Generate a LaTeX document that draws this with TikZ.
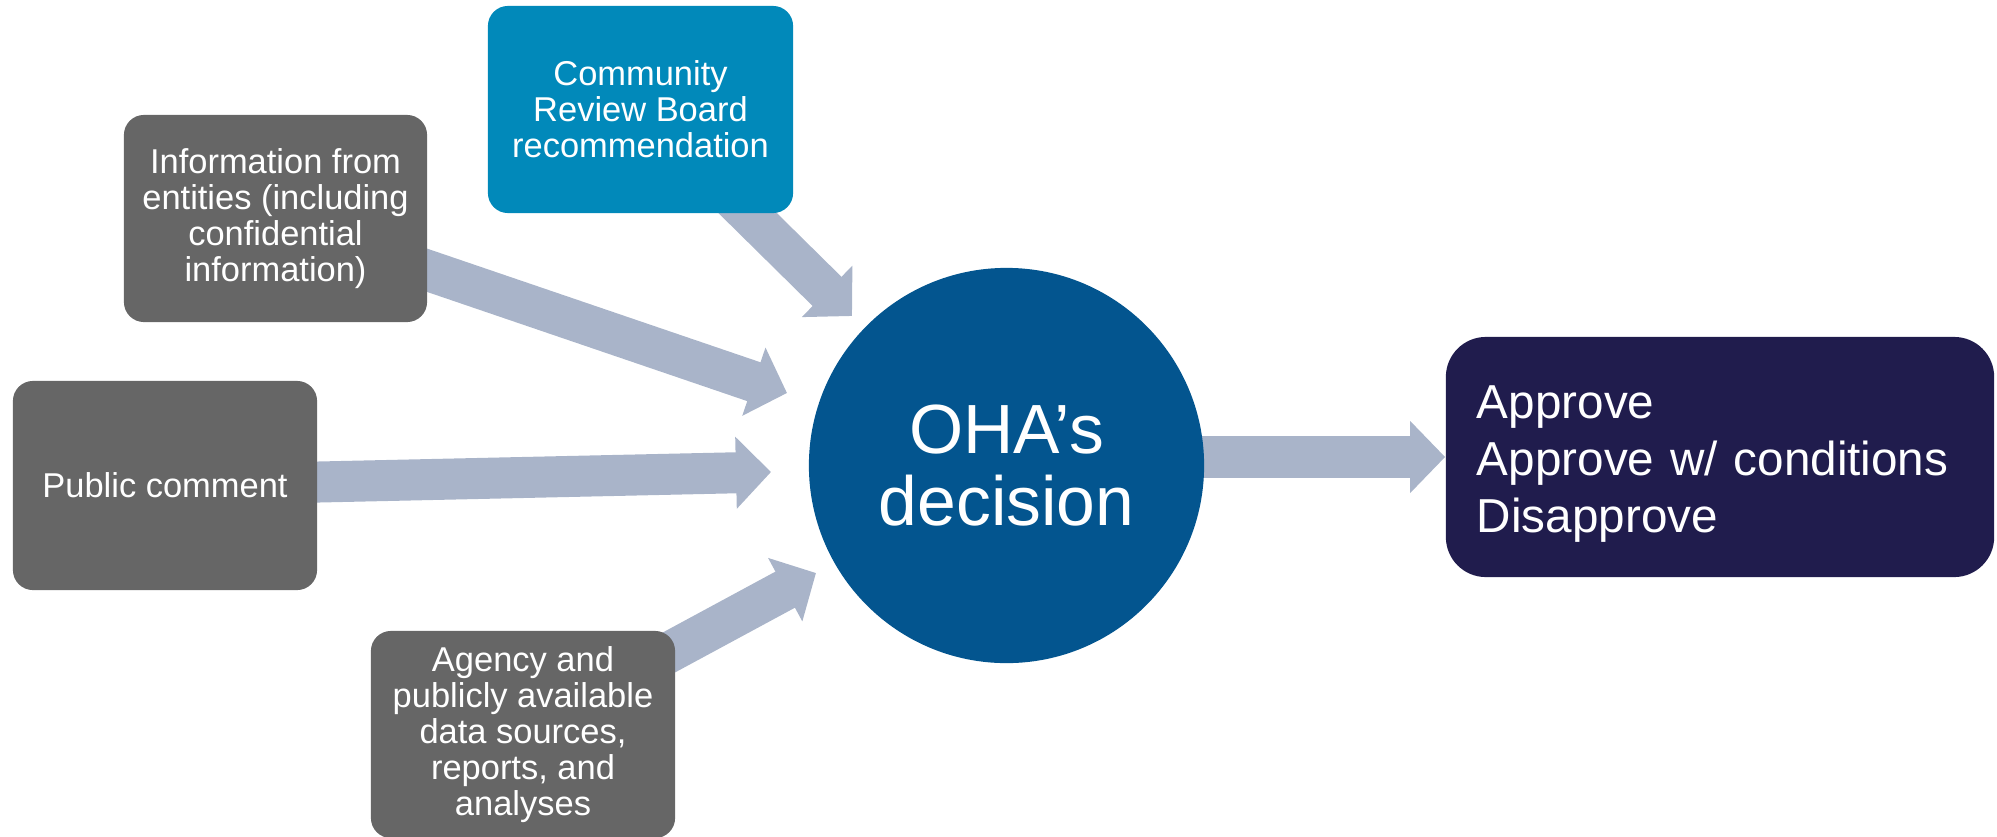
\documentclass[tikz,border=0pt]{standalone}
\usepackage{fontspec}
\setmainfont{Liberation Sans}
\usetikzlibrary{arrows.meta,calc}
\pgfdeclarelayer{background}
\pgfsetlayers{background,main}
\definecolor{boxgray}{HTML}{666666}
\definecolor{crbblue}{HTML}{0189BA}
\definecolor{ohablue}{HTML}{03558F}
\definecolor{outnavy}{HTML}{201C4D}
\definecolor{arrowgray}{HTML}{A9B4C9}
\begin{document}
\begin{tikzpicture}[x=0.01cm,y=-0.01cm,
  srcbox/.style={rectangle, rounded corners=0.2cm, fill=boxgray, text=white,
    align=center, minimum width=3.04cm, minimum height=2.07cm, inner sep=0pt,
    font=\fontsize{9.8}{10.25}\selectfont},
  fatarrow/.style={draw=arrowgray, line width=0.41cm,
    -{Triangle[width=0.70cm,length=0.35cm]}}]
\useasboundingbox (0,0) rectangle (1997,836);

% nodes
\node[srcbox, fill=crbblue, minimum width=3.05cm] (crb) at (640.5,109.5)
  {Community\\Review Board\\recommendation};
\node[srcbox, minimum width=3.03cm] (info) at (275.5,218.5)
  {Information from\\entities (including\\confidential\\information)};
\node[srcbox, minimum height=2.09cm] (pub) at (165,485.5) {Public comment};
\node[srcbox] (agency) at (523,734.5)
  {Agency and\\publicly available\\data sources,\\reports, and\\analyses};
\node[circle, fill=ohablue, minimum size=3.95cm, inner sep=0pt, text=white,
  align=center, font=\fontsize{19.8}{20.5}\selectfont] (oha) at (1006.5,465.5)
  {OHA’s\\decision};
\node[rectangle, rounded corners=0.4cm, fill=outnavy, text=white, align=left,
  text width=4.86cm, inner xsep=0.31cm, minimum height=2.40cm,
  font=\fontsize{13.55}{16.2}\selectfont] (out) at (1720,457)
  {\rule{0pt}{13.1pt}Approve\\Approve w/ conditions\\Disapprove};

% arrow tips
\coordinate (tipCRB) at (852,316);
\coordinate (tipInfo) at (787,393);
\coordinate (tipPub) at (771,472);
\coordinate (tipAg) at (816,573);

\begin{pgfonlayer}{background}
\draw[fatarrow] ($(crb.south)+(84.5,-23)$) -- (tipCRB);
\draw[fatarrow] ($(info.east)+(-17,46.2)$) -- (tipInfo);
\draw[fatarrow] ($(pub.east)+(-17,-3.1)$) -- (tipPub);
\draw[fatarrow] ($(agency.north east)+(-25,32)$) -- (tipAg);
\draw[fatarrow] ($(oha.east)+(-24,-8.5)$) -- (out.west);
\end{pgfonlayer}
\end{tikzpicture}
\end{document}
